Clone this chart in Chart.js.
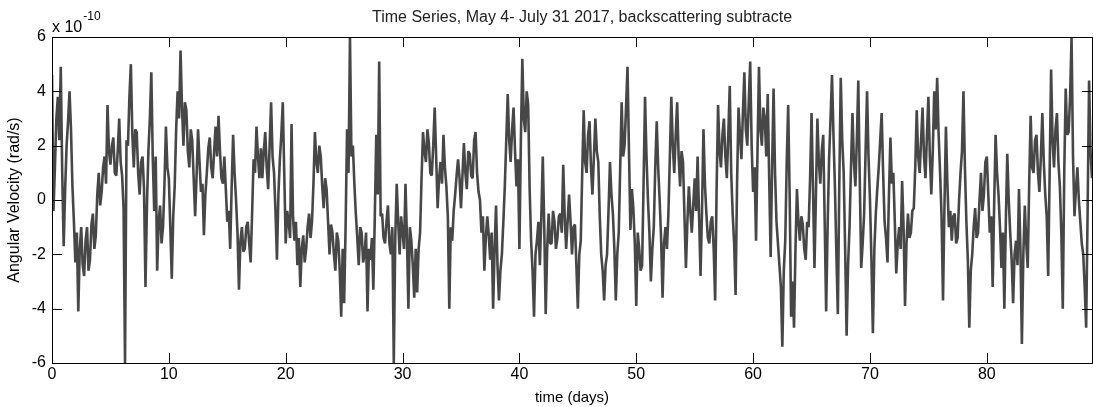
<!DOCTYPE html>
<html>
<head>
<meta charset="utf-8">
<script src="https://cdn.jsdelivr.net/npm/chart.js@4"></script>
<style>
html, body { margin: 0; padding: 0; background: #fff; }
</style>
</head>
<body>
<canvas id="myChart" width="1093" height="407"></canvas>
<script>
// one sample every eighth of a day, values in units of 1e-10 rad/s
const sampleStep = 0.125;
const velocity = [
  // days 0 - 9
  4.6, -0.4, 1.2, 3.0, 3.8, 2.2, 4.9, 1.0, -1.7, 0.4, 2.0, 2.9, 4.0, 2.6, 0.5, -0.8,
  -2.3, -1.2, -4.1, -1.8, -1.0, -2.4, -2.8, -1.5, -1.0, -2.6, -2.2, -0.9, -0.5, -1.8, -1.3, 0.2,
  1.0, -0.2, 0.3, 1.2, 1.6, 0.6, 3.5, 1.8, 1.3, 2.0, 2.3, 1.0, 0.9, 1.8, 3.0, 1.4,
  0.9, -0.3, -6.0, 2.2, 2.0, 3.8, 5.0, 2.4, 1.2, 2.6, 2.5, 1.0, 0.2, 1.4, 1.6, 0.4,
  -3.2, -0.2, 1.8, 3.0, 4.7, 1.5, -0.4, 1.6,
  // days 9 - 18
  -2.6, -0.8, -0.2, -1.6, -1.0, 0.6, 2.7, 1.2, 0.8, -1.0, -2.9, -0.6, 0.5, 2.6, 4.0, 3.0,
  5.5, 3.4, 2.0, 3.6, 3.3, 1.8, 1.2, 2.6, 2.2, 0.8, -0.6, 0.9, 2.6, 1.4, 0.3, 0.6,
  -1.3, 0.2, 1.0, 1.9, 2.3, 1.2, 0.8, 1.8, 2.7, 1.6, 3.1, 1.8, 0.8, 0.6, 1.6, 0.4,
  -0.8, -0.4, -1.8, 0.5, 2.4, 1.0, 0.0, -1.2, -3.3, -1.5, -1.0, -1.9, -1.8, -1.0, -0.8, -1.6,
  -2.3, -0.5, 1.5, 1.0, 2.7, 1.6, 0.8, 1.9,
  // days 18 - 27
  0.8, 1.8, 2.5, 1.2, 0.4, 2.0, 3.6, 1.6, 1.0, -0.4, -2.2, 0.2, 1.5, 2.4, 3.6, 1.0,
  -1.6, -0.4, -0.8, -1.4, 2.8, -0.6, -1.5, -0.8, -2.4, -1.4, -3.2, -1.8, -1.3, -2.3, -1.8, -1.0,
  -0.5, -1.4, -0.8, 0.6, 2.5, 1.4, 1.0, 2.0, 1.6, 0.5, -0.3, 0.8, 0.4, -0.8, -2.0, -0.9,
  -1.2, -2.0, -2.6, -1.2, -1.5, -2.6, -4.3, -1.8, -3.8, -1.0, 2.6, 1.0, 6.0, 1.6, 2.0, 0.6,
  -0.5, -1.4, -2.4, -1.0, -1.2, -2.3, -2.0, -1.2,
  // days 27 - 36
  -4.1, -1.8, -2.2, -1.4, -3.3, -0.6, 2.4, 0.2, 5.1, -0.6, -0.5, -1.4, -1.6, -0.8, -0.2, -1.6,
  -2.0, -1.0, -6.0, -1.4, 0.6, -0.8, -2.0, -0.6, -1.2, -1.8, 0.6, -1.4, -4.0, -1.0, -1.5, -2.4,
  -3.6, -1.8, -3.4, -1.8, -1.2, 0.8, 2.5, 1.8, 1.4, 2.6, 2.1, 1.0, 0.9, 2.0, 3.4, 1.6,
  -0.3, 0.8, 1.4, 0.6, 2.4, 1.2, 0.5, -0.6, -4.0, -1.0, -1.5, -0.4, 0.2, 0.9, 1.5, 0.8,
  -0.3, 0.9, 2.1, 1.0, 0.4, 1.8, 1.7, 0.9,
  // days 36 - 45
  0.8, 2.2, 2.5, 1.0, 0.3, 0.0, -1.2, -0.6, -2.6, -1.4, -0.6, -1.3, -2.2, -1.2, -4.0, -1.8,
  -0.2, -2.4, -3.7, -2.6, -2.0, -0.8, 0.5, 2.2, 3.9, 2.2, 1.4, 2.6, 3.4, 1.8, 0.5, 1.5,
  -1.8, 2.2, 5.2, 3.0, 2.5, 4.0, 3.5, 0.4, -1.5, -2.6, -4.3, -2.0, -1.5, -0.8, -2.4, -0.6,
  1.6, -1.0, -4.2, -1.8, -0.5, -1.6, -1.6, -0.4, -0.8, -1.8, -1.4, -0.6, -0.5, -1.2, 1.3, -0.6,
  -1.8, -0.8, 0.2, -0.8, -2.0, -1.0, -0.9, -2.4,
  // days 45 - 54
  -4.0, -2.0, -1.5, 1.0, 3.3, 1.4, 1.0, 2.4, 2.9, 1.2, 0.2, 1.6, 3.0, 1.8, 1.4, -0.6,
  -2.0, -2.6, -3.7, -2.4, -2.0, -0.4, 1.4, 0.2, -0.5, -1.8, -3.7, -2.0, -1.2, 1.2, 3.6, 1.6,
  2.0, 3.4, 4.9, 1.8, -1.1, 0.4, -0.3, -1.6, -3.9, -1.2, -1.8, -2.6, -2.4, 0.6, 3.8, 1.6,
  0.0, -1.2, -3.0, -1.8, -1.0, 1.2, 2.9, 1.2, 0.0, -1.4, -3.6, -1.6, -1.0, -1.8, -0.5, 1.6,
  3.8, 2.0, 1.0, 2.4, 3.6, 1.6, 0.5, 1.8,
  // days 54 - 63
  1.4, -0.6, -2.5, -0.8, 0.5, -0.4, -1.2, -0.2, 0.8, -0.4, 1.6, -0.6, -2.8, -0.4, 2.6, 0.6,
  -0.5, -1.4, -1.6, -0.8, -0.6, -1.8, -3.7, 0.4, 3.5, 1.8, 1.2, 2.4, 3.0, 1.6, 0.8, 2.4,
  4.2, 1.0, -0.5, -1.6, -3.5, 0.6, 3.4, 2.4, 1.5, 3.2, 4.7, 2.6, 2.0, 3.6, 5.1, 2.0,
  0.3, 1.2, -1.5, 1.8, 4.9, 2.6, 2.0, 3.4, 3.0, 1.6, 3.9, 0.8, -2.1, 1.2, 4.1, 1.0,
  -0.8, -1.6, -2.4, -3.2, -5.4, -2.6, -1.5, 1.4,
  // days 63 - 72
  3.5, 0.2, -4.3, -3.0, -4.7, -1.8, 0.4, -0.8, -1.5, -0.6, -0.9, -1.8, -2.2, -0.8, -1.0, 0.8,
  3.2, 0.4, -2.5, 0.2, 3.0, 1.4, 0.6, 1.8, 2.4, -0.8, -4.1, -1.0, 1.5, 3.0, 4.6, 2.4,
  0.5, -2.0, -4.2, 0.6, 4.5, 2.2, 1.0, -1.8, -5.0, -2.4, -1.0, 1.2, 3.2, 1.4, 0.5, 2.2,
  4.4, 0.8, -2.5, -1.6, -0.5, 1.8, 4.0, 1.6, 0.0, -2.2, -4.9, -1.8, -0.5, 0.4, 1.2, 2.2,
  3.2, 1.0, -0.8, -1.4, -2.3, 0.2, 2.3, 0.6,
  // days 72 - 81
  1.0, -0.8, -2.7, -1.6, -1.0, -1.8, 0.7, -1.0, -3.9, -1.6, -0.5, -1.4, -1.2, -0.4, -0.3, 1.2,
  3.3, 1.6, 1.0, 2.2, 3.4, 1.6, 0.8, 2.4, 3.8, 1.6, 0.2, 1.8, 4.0, 2.6, 4.5, 2.4,
  1.0, -0.6, -3.7, -0.2, 2.7, 0.6, -1.0, -0.4, -1.5, -0.6, -0.5, -1.6, -1.4, 0.0, 1.0, 1.8,
  4.0, 1.2, -0.8, -2.2, -4.7, -2.6, -2.0, -1.0, -0.3, -1.4, -1.2, 0.0, 1.0, -0.4, 0.2, 1.4,
  1.6, 0.2, -1.2, -0.6, -3.2, -0.2, 2.4, 1.0,
  // days 81 - 89
  0.2, -1.0, -2.5, -1.2, -4.0, -0.8, 1.7, 0.0, -1.2, -2.2, -3.8, -2.0, -1.5, -2.4, 0.4, -1.8,
  -5.3, -2.0, -0.2, -1.6, -2.5, 0.6, 3.1, 1.2, 1.0, 2.2, 2.4, 1.0, 0.3, 1.6, 3.2, 1.4,
  0.2, -0.6, -2.8, 1.0, 4.8, 2.2, 1.2, 2.6, 3.2, 1.4, 0.5, -1.2, -4.0, 1.0, 4.1, 2.4,
  2.5, 3.8, 6.0, 1.6, -0.6, 0.4, 1.2, 0.0, -0.8, -1.6, -2.0, -3.2, -4.7, -0.4, 4.4, 1.8,
  0.8
];
const xTicks = [0, 10, 20, 30, 40, 50, 60, 70, 80];
const yTicks = [-6, -4, -2, 0, 2, 4, 6];

const titleText = 'Time Series, May 4- July 31 2017, backscattering subtracte';
const TICK_LEN = 10;
const FONT = '"Liberation Sans", Arial, Helvetica, sans-serif';

Chart.defaults.font.family = FONT;
Chart.defaults.color = '#000';

const matlabAxes = {
  id: 'matlabAxes',
  afterDraw(chart) {
    const ctx = chart.ctx;
    const a = chart.chartArea;
    const x = chart.scales.x;
    const y = chart.scales.y;
    ctx.save();
    ctx.strokeStyle = '#000';
    ctx.lineWidth = 1;
    ctx.beginPath();
    xTicks.forEach(v => {
      const px = Math.round(x.getPixelForValue(v)) + 0.5;
      ctx.moveTo(px, a.bottom); ctx.lineTo(px, a.bottom - TICK_LEN);
      ctx.moveTo(px, a.top); ctx.lineTo(px, a.top + TICK_LEN);
    });
    yTicks.forEach(v => {
      const py = Math.round(y.getPixelForValue(v)) + 0.5;
      ctx.moveTo(a.left, py); ctx.lineTo(a.left + TICK_LEN, py);
      ctx.moveTo(a.right, py); ctx.lineTo(a.right - TICK_LEN, py);
    });
    ctx.stroke();
    ctx.strokeRect(a.left + 0.5, a.top + 0.5, a.right - a.left, a.bottom - a.top);

    // exponent label and title
    ctx.fillStyle = '#000';
    ctx.textBaseline = 'alphabetic';
    ctx.textAlign = 'left';
    ctx.font = '16px ' + FONT;
    ctx.fillText('x 10', a.left, 32);
    const w = ctx.measureText('x 10').width;
    ctx.font = '12px ' + FONT;
    ctx.fillText('-10', a.left + w + 1, 20);
    ctx.fillStyle = '#222';
    ctx.font = '16px ' + FONT;
    ctx.fillText(titleText, 372, 22);
    ctx.restore();
  }
};

const chartElement = document.getElementById('myChart').getContext('2d');

const myChart = new Chart(chartElement, {
  type: 'line',
  data: {
    datasets: [{
      data: velocity.map((v, i) => ({ x: i * sampleStep, y: v })),
      borderColor: '#474747',
      borderWidth: 2.6,
      borderJoinStyle: 'bevel',
      pointRadius: 0,
      tension: 0,
      fill: false
    }]
  },
  options: {
    responsive: false,
    animation: false,
    devicePixelRatio: 1,
    layout: { padding: { top: 37, right: 1, left: 0, bottom: 0 } },
    plugins: { legend: { display: false }, title: { display: false }, tooltip: { enabled: false } },
    scales: {
      x: {
        type: 'linear',
        min: 0,
        max: 89,
        grid: { display: false, drawTicks: false },
        border: { display: false },
        ticks: { font: { size: 16 }, padding: 2, maxRotation: 0, autoSkip: false },
        afterBuildTicks: s => { s.ticks = xTicks.map(v => ({ value: v })); },
        afterFit: s => { s.height = 44; },
        title: { display: true, text: 'time (days)', font: { size: 15 }, padding: { top: 0, bottom: 0 } }
      },
      y: {
        min: -6,
        max: 6,
        grid: { display: false, drawTicks: false },
        border: { display: false },
        ticks: { font: { size: 16 }, padding: 6 },
        afterBuildTicks: s => { s.ticks = yTicks.map(v => ({ value: v })); },
        afterFit: s => { s.width = 52; },
        title: { display: true, text: 'Angular Velocity (rad/s)', font: { size: 16 }, padding: { top: 5, bottom: 0 } }
      }
    }
  },
  plugins: [matlabAxes]
});
</script>
</body>
</html>
